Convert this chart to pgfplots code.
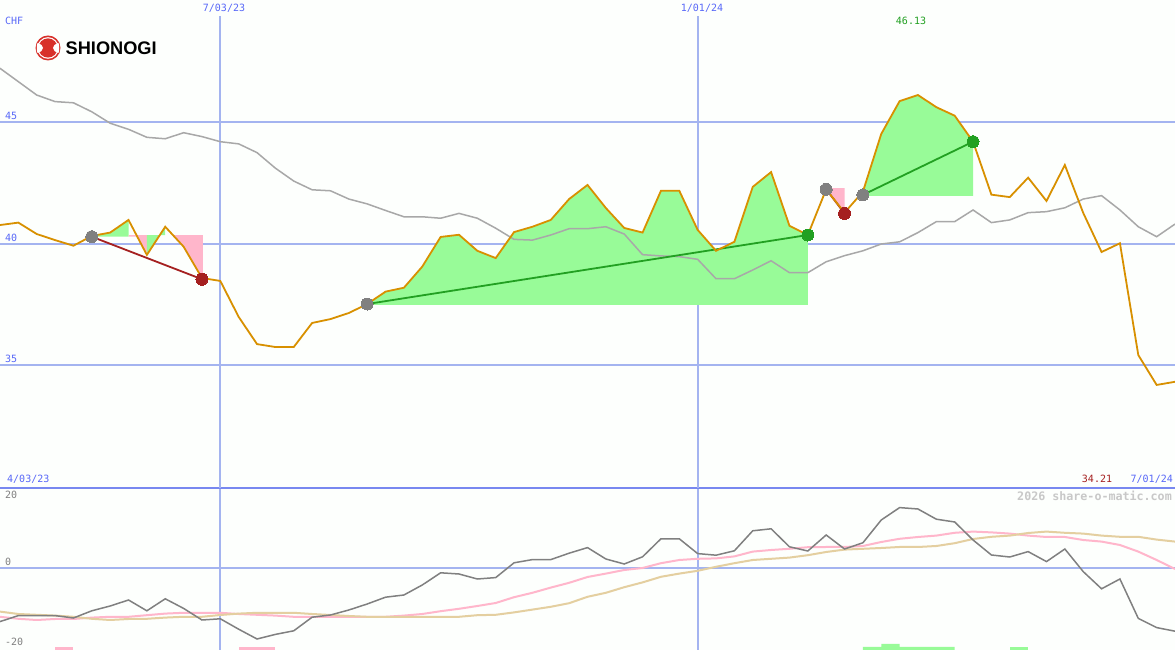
\documentclass[border=0pt]{standalone}
\usepackage{pgfplots}
\usepackage{pgfplotstable}
\usepackage{fontspec}
\pgfplotsset{compat=1.18}
\setmainfont{Liberation Sans}
\setmonofont{DejaVu Sans Mono}
\definecolor{bgc}{HTML}{FDFFFD}
\definecolor{gridc}{HTML}{A4B4F0}
\definecolor{topc}{HTML}{7888F0}
\definecolor{txtblue}{HTML}{5868F8}
\definecolor{pricec}{HTML}{D89000}
\definecolor{mac}{HTML}{A8A8A8}
\definecolor{fillg}{HTML}{98FB98}
\definecolor{fillp}{HTML}{FFB6CB}
\definecolor{gline}{HTML}{22A022}
\definecolor{rline}{HTML}{A52020}
\definecolor{markg}{HTML}{808080}
\definecolor{tanc}{HTML}{E4CFA0}
\definecolor{oscc}{HTML}{808080}
\definecolor{wmc}{HTML}{C8C8C8}
\definecolor{lgred}{HTML}{D8302A}
\pgfplotstableread{
i price ma
0 40.78 47.23
1 40.88 46.68
2 40.41 46.13
3 40.16 45.86
4 39.93 45.81
5 40.33 45.44
6 40.47 44.97
7 40.99 44.72
8 39.55 44.39
9 40.71 44.33
10 39.89 44.58
11 38.60 44.42
12 38.48 44.21
13 37.00 44.12
14 35.88 43.76
15 35.76 43.12
16 35.76 42.59
17 36.75 42.23
18 36.91 42.19
19 37.16 41.85
20 37.53 41.65
21 38.04 41.38
22 38.20 41.12
23 39.07 41.12
24 40.29 41.06
25 40.38 41.26
26 39.72 41.06
27 39.42 40.65
28 40.49 40.19
29 40.71 40.16
30 40.99 40.37
31 41.85 40.63
32 42.43 40.63
33 41.48 40.71
34 40.66 40.41
35 40.47 39.56
36 42.19 39.51
37 42.19 39.48
38 40.58 39.37
39 39.72 38.57
40 40.09 38.57
41 42.35 38.93
42 42.96 39.31
43 40.75 38.82
44 40.37 38.82
45 42.25 39.27
46 41.29 39.52
47 42.15 39.72
48 44.53 40.00
49 45.88 40.09
50 46.13 40.47
51 45.63 40.92
52 45.28 40.92
53 44.21 41.40
54 42.03 40.88
55 41.93 40.99
56 42.73 41.29
57 41.77 41.33
58 43.25 41.49
59 41.28 41.85
60 39.67 41.99
61 40.03 41.40
62 35.43 40.71
63 34.20 40.30
64 34.33 40.82
}\maintable
\pgfplotstableread{
i osc pink tan
0 -13.4 -12.2 -10.9
1 -11.9 -12.7 -11.5
2 -11.9 -13.0 -11.7
3 -11.9 -12.75 -11.9
4 -12.5 -12.75 -12.2
5 -10.7 -12.4 -12.7
6 -9.5 -12.2 -13.0
7 -8.0 -12.2 -12.75
8 -10.7 -11.8 -12.7
9 -7.7 -11.4 -12.4
10 -10.1 -11.2 -12.2
11 -13.0 -11.2 -12.2
12 -12.7 -11.2 -11.75
13 -15.3 -11.5 -11.4
14 -17.75 -11.7 -11.2
15 -16.6 -11.9 -11.2
16 -15.7 -12.2 -11.2
17 -12.3 -12.2 -11.5
18 -11.75 -12.2 -11.75
19 -10.5 -12.2 -12.0
20 -9.0 -12.2 -12.2
21 -7.3 -12.2 -12.2
22 -6.75 -11.9 -12.2
23 -4.25 -11.5 -12.2
24 -1.2 -10.8 -12.2
25 -1.5 -10.2 -12.2
26 -2.75 -9.5 -11.8
27 -2.4 -8.75 -11.7
28 1.3 -7.3 -11.1
29 2.1 -6.2 -10.4
30 2.1 -4.9 -9.7
31 3.7 -3.7 -8.8
32 5.1 -2.25 -7.2
33 2.25 -1.4 -6.2
34 1.0 -0.5 -4.8
35 2.8 0.0 -3.6
36 7.3 1.2 -2.2
37 7.3 2.0 -1.4
38 3.6 2.3 -0.7
39 3.2 2.4 0.3
40 4.3 2.9 1.2
41 9.3 4.1 2.0
42 9.8 4.5 2.3
43 5.3 4.8 2.6
44 4.25 5.2 3.2
45 8.25 5.25 4.0
46 4.75 5.25 4.6
47 6.3 5.5 4.8
48 12.0 6.5 5.0
49 15.1 7.3 5.25
50 14.75 7.75 5.25
51 12.2 8.1 5.5
52 11.5 8.8 6.2
53 7.0 9.1 7.25
54 3.25 8.9 7.8
55 2.75 8.6 8.1
56 4.1 8.1 8.75
57 1.6 7.75 9.1
58 4.75 7.75 8.8
59 -0.9 7.0 8.6
60 -5.2 6.6 8.1
61 -2.75 5.75 7.8
62 -12.6 4.1 7.8
63 -14.9 2.0 7.1
64 -15.8 -0.25 6.6
}\lowtable
\pgfplotsset{base/.style={
  axis lines=none, scale only axis, width=1175pt,
  xmin=0, xmax=64, clip=true, tick style={draw=none}}}
\begin{document}
\begin{tikzpicture}[x=1pt,y=1pt]
\useasboundingbox (0,0) rectangle (1175,650);
\fill[bgc] (0,0) rectangle (1175,650);
% lower panel
\begin{axis}[base, at={(0pt,0pt)}, anchor=south west, height=162pt, ymin=-20.5, ymax=20]
\addplot[gridc,line width=2pt] coordinates {(0,0) (64,0)};
\addplot[gridc,line width=2pt] coordinates {(12,-20.5) (12,20)};
\addplot[gridc,line width=1.6pt] coordinates {(38.01,-20.5) (38.01,20)};
\addplot[topc,line width=2.5pt] coordinates {(0,20) (64,20)};
\addplot[fillp,fill=fillp,draw=none] coordinates {(3,-20.5) (3,-19.75) (4,-19.75) (4,-20.5)} --cycle;
\addplot[fillp,fill=fillp,draw=none] coordinates {(13,-20.5) (13,-19.75) (15,-19.75) (15,-20.5)} --cycle;
\addplot[fillg,fill=fillg,draw=none] coordinates {(47,-20.5) (47,-19.75) (48,-19.75) (48,-19) (49,-19) (49,-19.75) (52,-19.75) (52,-20.5)} --cycle;
\addplot[fillg,fill=fillg,draw=none] coordinates {(55,-20.5) (55,-19.75) (56,-19.75) (56,-20.5)} --cycle;
\addplot[fillp,line width=2pt] table[x=i,y=pink] {\lowtable};
\addplot[tanc,line width=2pt] table[x=i,y=tan] {\lowtable};
\addplot[oscc,line width=1.5pt] table[x=i,y=osc] {\lowtable};
\end{axis}
% main panel
\begin{axis}[base, at={(0pt,162pt)}, anchor=south west, height=488pt, ymin=29.959, ymax=50.041]
\addplot[gridc,line width=2pt] coordinates {(0,45) (64,45)};
\addplot[gridc,line width=2pt] coordinates {(0,40) (64,40)};
\addplot[gridc,line width=2pt] coordinates {(0,35) (64,35)};
\addplot[gridc,line width=2pt] coordinates {(12,29.959) (12,49.38)};
\addplot[gridc,line width=1.6pt] coordinates {(38.01,29.959) (38.01,49.38)};
% trade areas
\addplot[fillg,fill=fillg,draw=none] coordinates {(5,40.30) (5,40.33) (6,40.47) (7,40.99) (7,40.30)} --cycle;
\addplot[fillp,fill=fillp,draw=none] coordinates {(7,40.37) (7,40.30) (7.45,40.30) (8,39.55) (8,40.37)} --cycle;
\addplot[fillg,fill=fillg,draw=none] coordinates {(8,39.55) (9,40.71) (9,40.37) (8,40.37)} --cycle;
\addplot[fillp,fill=fillp,draw=none] coordinates {(9.41,40.37) (10,39.89) (11,38.60) (11.05,38.60) (11.05,40.37)} --cycle;
\addplot[fillg,fill=fillg,draw=none] coordinates {(20,37.49) (20,37.53) (21,38.04) (22,38.20) (23,39.07) (24,40.29) (25,40.38) (26,39.72) (27,39.42) (28,40.49) (29,40.71) (30,40.99) (31,41.85) (32,42.43) (33,41.48) (34,40.66) (35,40.47) (36,42.19) (37,42.19) (38,40.58) (39,39.72) (40,40.09) (41,42.35) (42,42.96) (43,40.75) (44,40.37) (44,37.49)} --cycle;
\addplot[fillp,fill=fillp,draw=none] coordinates {(45,42.30) (46,41.29) (46,42.30)} --cycle;
\addplot[fillg,fill=fillg,draw=none] coordinates {(47,41.98) (47,42.15) (48,44.53) (49,45.88) (50,46.13) (51,45.63) (52,45.28) (53,44.21) (53,41.98)} --cycle;
% moving average
\addplot[mac,line width=1.5pt] table[x=i,y=ma] {\maintable};
% trade lines
\addplot[rline,line width=1.8pt] coordinates {(5,40.30) (11,38.55)};
\addplot[rline,line width=1.8pt] coordinates {(45,42.25) (46,41.26)};
\addplot[gline,line width=1.8pt] coordinates {(20,37.53) (44,40.37)};
\addplot[gline,line width=1.8pt] coordinates {(47,42.02) (53,44.21)};
% trade markers
\addplot[only marks,color=markg,mark=*,mark size=6pt,mark options={fill=markg,draw=markg,line width=0pt}] coordinates {(5,40.30) (20,37.53) (45,42.25) (47,42.02)};
\addplot[only marks,color=rline,mark=*,mark size=6pt,mark options={fill=rline,draw=rline,line width=0pt}] coordinates {(11,38.55) (46,41.26)};
\addplot[only marks,color=gline,mark=*,mark size=6pt,mark options={fill=gline,draw=gline,line width=0pt}] coordinates {(44,40.37) (53,44.21)};
% price
\addplot[pricec,line width=1.8pt] table[x=i,y=price] {\maintable};
\end{axis}
% labels (pixel position: y measured from the top)
\def\lbl#1#2#3#4#5{\node[anchor=#1,inner sep=0pt,text=#4,font=\ttfamily\fontsize{10}{10}\selectfont] at (#2,650-#3) {#5};}
\lbl{west}{5}{21}{txtblue}{CHF}
\lbl{center}{224}{8}{txtblue}{7/03/23}
\lbl{center}{702}{8}{txtblue}{1/01/24}
\lbl{center}{911}{21}{gline}{46.13}
\lbl{west}{5}{116}{txtblue}{45}
\lbl{west}{5}{238}{txtblue}{40}
\lbl{west}{5}{359}{txtblue}{35}
\lbl{west}{7}{479}{txtblue}{4/03/23}
\lbl{center}{1097}{479}{rline}{34.21}
\lbl{east}{1173}{479}{txtblue}{7/01/24}
\lbl{west}{5}{495}{oscc}{20}
\lbl{west}{5}{562}{oscc}{0}
\lbl{west}{5}{642}{oscc}{-20}
\node[anchor=east,inner sep=0pt,text=wmc,font=\ttfamily\bfseries\fontsize{11.67}{12}\selectfont] at (1172,154) {2026 share-o-matic.com};
% logo
\fill[lgred] (48,602) circle (12.5);
\fill[white] (48,602) circle (10.8);
\fill[lgred] (48,602) circle (9.6);
\fill[white] (37.5,607) .. controls (41,606) and (43,604) .. (43,602) .. controls (43,600) and (41,598) .. (37.5,597) .. controls (36.5,600) and (36.5,604) .. (37.5,607) -- cycle;
\fill[white] (58.5,607) .. controls (55,606) and (53,604) .. (53,602) .. controls (53,600) and (55,598) .. (58.5,597) .. controls (59.5,600) and (59.5,604) .. (58.5,607) -- cycle;
\node[anchor=west,inner sep=0pt,font=\bfseries\fontsize{18.2}{20}\selectfont] at (65.5,602) {SHIONOGI};
\end{tikzpicture}
\end{document}
